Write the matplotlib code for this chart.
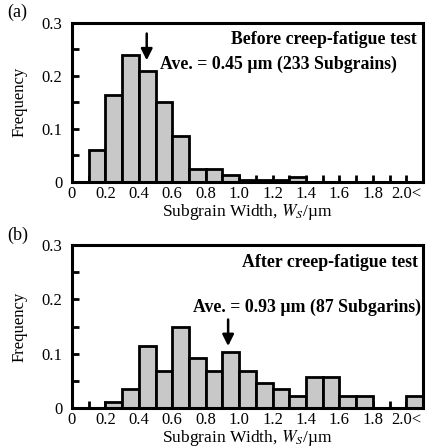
import numpy as np
import matplotlib.pyplot as plt

plt.rcParams['font.family'] = ['Liberation Serif', 'DejaVu Serif']
plt.rcParams['mathtext.fontset'] = 'stix'

# bin left edges (0.1 um wide), last bin is "2.0<"
bin_left = np.round(np.arange(0, 2.1, 0.1), 1)

# (a) before creep-fatigue test, 233 subgrains
freq_a = [0.0, 0.060, 0.163, 0.240, 0.210, 0.150, 0.086, 0.025, 0.025, 0.013,
          0.0043, 0.0043, 0.0043, 0.0086, 0, 0, 0, 0, 0, 0, 0]
# (b) after creep-fatigue test, 87 subgrains
freq_b = [0, 0, 0.0115, 0.0345, 0.115, 0.069, 0.149, 0.092, 0.069, 0.103,
          0.069, 0.046, 0.0345, 0.023, 0.0575, 0.0575, 0.023, 0.023, 0, 0, 0.023]

xtick_vals = [0, 0.2, 0.4, 0.6, 0.8, 1.0, 1.2, 1.4, 1.6, 1.8, 2.0]
xtick_labels = ["0", "0.2", "0.4", "0.6", "0.8", "1.0", "1.2", "1.4", "1.6", "1.8", "2.0<"]
ytick_vals = [0, 0.1, 0.2, 0.3]
ytick_labels = ["0", "0.1", "0.2", "0.3"]

fig = plt.figure(figsize=(4.26, 4.47), dpi=100)
ax_a = fig.add_axes([0.169, 0.593, 0.824, 0.356])
ax_b = fig.add_axes([0.169, 0.087, 0.824, 0.365])


def draw_panel(ax, freq):
    ax.bar(bin_left, freq, width=0.1, align='edge', color='#c8c8c8',
           edgecolor='black', linewidth=2.0, zorder=2)
    ax.set_xlim(0, 2.1)
    ax.set_ylim(0, 0.3)
    ax.set_xticks(xtick_vals)
    ax.set_xticklabels(xtick_labels)
    ax.set_xticks(bin_left, minor=True)
    ax.set_yticks(ytick_vals)
    ax.set_yticklabels(ytick_labels)
    ax.set_yticks([0.05, 0.15, 0.25], minor=True)
    ax.tick_params(which='both', direction='in', width=2.0, length=5,
                   labelsize=12)
    ax.tick_params(axis='x', pad=3)
    ax.tick_params(axis='y', pad=7)
    for s in ax.spines.values():
        s.set_linewidth(2.2)
        s.set_zorder(3)
    ax.set_xlabel("Subgrain Width, $W_S$/\u00b5m", fontsize=12.5, labelpad=0)
    ax.set_ylabel("Frequency", fontsize=12, labelpad=10)


draw_panel(ax_a, freq_a)
draw_panel(ax_b, freq_b)

arrow_style = dict(arrowstyle='-|>', color='black', lw=1.8, mutation_scale=17)

# panel (a) annotations
ax_a.text(0.983, 0.893, "Before creep-fatigue test", transform=ax_a.transAxes,
          ha='right', va='center', fontsize=12.8, fontweight='bold')
ax_a.text(0.251, 0.736, "Ave. = 0.45 \u00b5m (233 Subgrains)", transform=ax_a.transAxes,
          ha='left', va='center', fontsize=12.8, fontweight='bold')
ax_a.annotate("", xy=(0.447, 0.224), xytext=(0.447, 0.285), arrowprops=arrow_style)
fig.text(0.018, 0.972, "(a)", fontsize=13, va='center', ha='left')

# panel (b) annotations
ax_b.text(0.986, 0.89, "After creep-fatigue test", transform=ax_b.transAxes,
          ha='right', va='center', fontsize=12.8, fontweight='bold')
ax_b.text(0.994, 0.62, "Ave. = 0.93 \u00b5m (87 Subgarins)", transform=ax_b.transAxes,
          ha='right', va='center', fontsize=12.8, fontweight='bold')
ax_b.annotate("", xy=(0.934, 0.109), xytext=(0.934, 0.168), arrowprops=arrow_style)
fig.text(0.018, 0.474, "(b)", fontsize=13, va='center', ha='left')

fig.savefig("out.png", dpi=100)
